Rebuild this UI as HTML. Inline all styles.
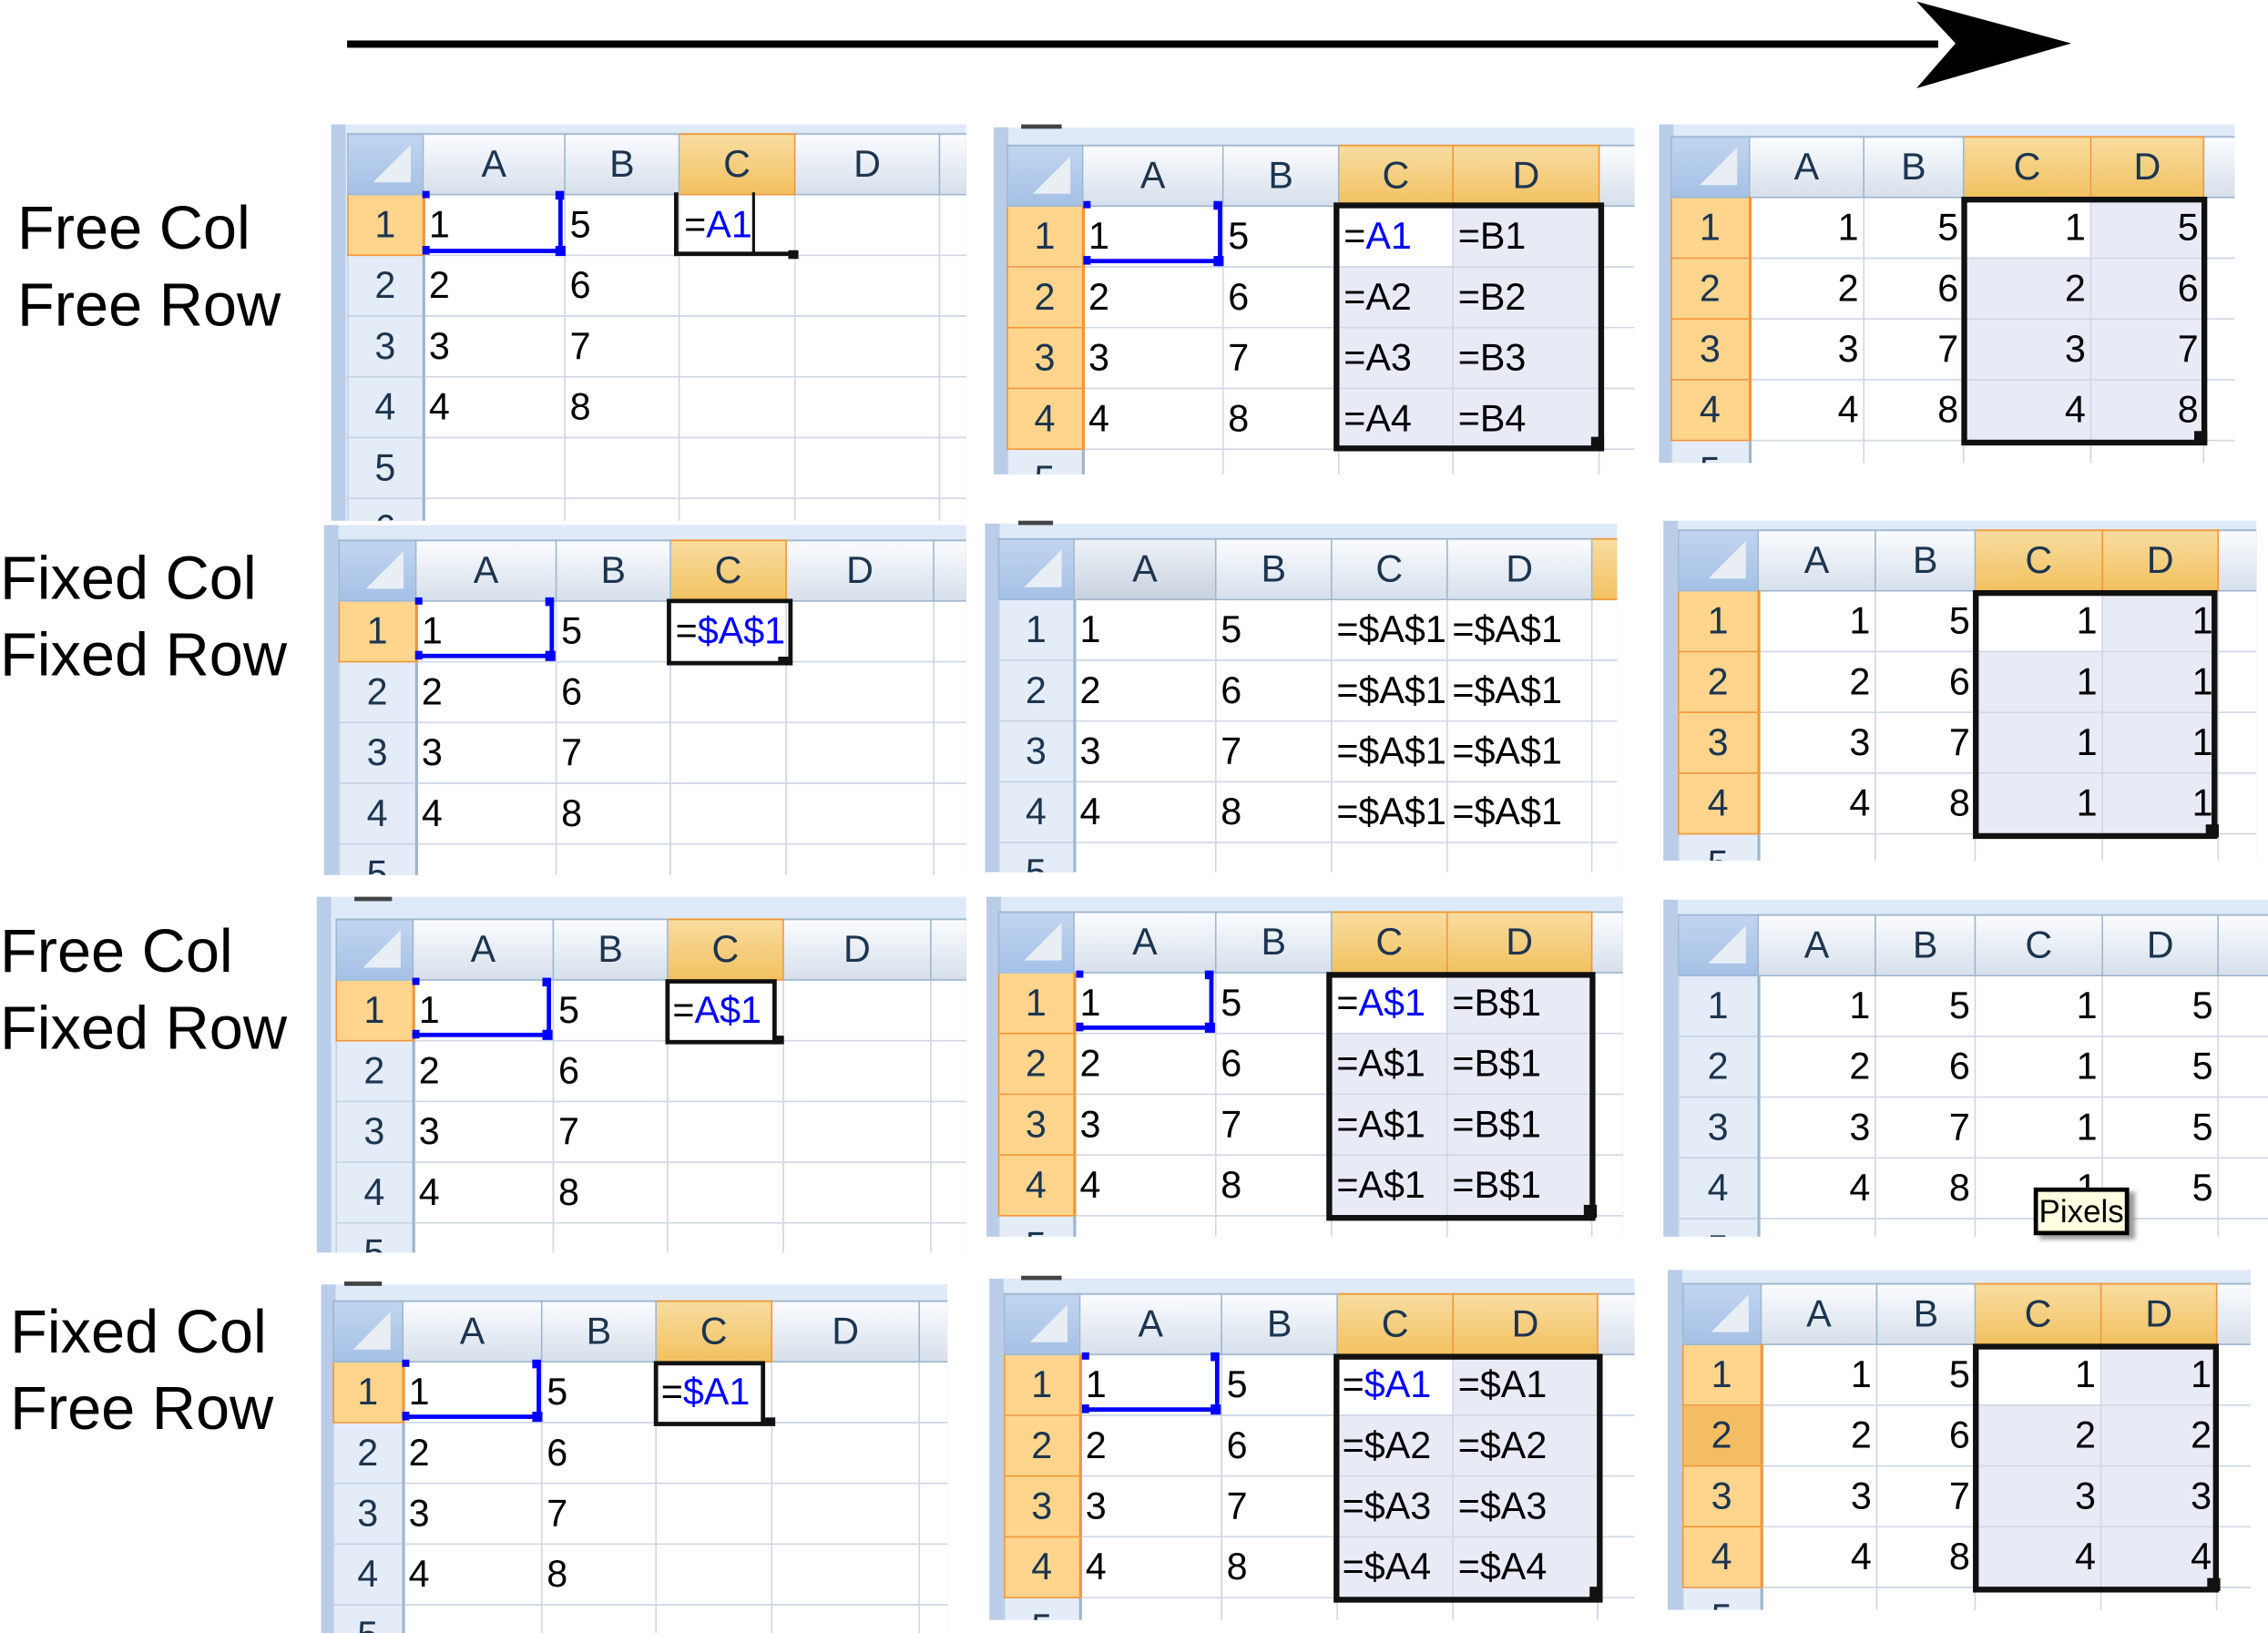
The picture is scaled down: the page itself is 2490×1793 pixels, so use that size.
<!DOCTYPE html>
<html><head><meta charset="utf-8"><style>
html,body{margin:0;padding:0;background:#fff;}
#w{position:absolute;left:0;top:0;width:1568px;height:1129px;transform:scale(1.58801,1.58813);transform-origin:0 0;overflow:hidden;}
.g{position:absolute;overflow:hidden;background:linear-gradient(90deg,#b9cde9 0,#b9cde9 10px,#dfeaf8 10px);}
.g table{position:absolute;border-collapse:collapse;table-layout:fixed;font:26px "Liberation Sans",sans-serif;}
.g td{border:1px solid #d0d7e5;height:41px;padding:0 3px;white-space:nowrap;overflow:hidden;background:#fff;color:#000;line-height:41px;}
.g td.c{background:linear-gradient(#c0d5ef,#a5c0e6);border:1px solid #9eb6ce;position:relative;}
.g td.c:after{content:"";position:absolute;right:8px;bottom:8px;border-left:26px solid transparent;border-bottom:26px solid #e9eef5;}
.g td.ch{background:linear-gradient(#fafcfe,#d6dfeb);border:1px solid #9eb6ce;color:#1c3550;text-align:center;}
.g td.h{background:linear-gradient(#f9dca0,#f1c15f);border:1px solid #f29536;color:#1c3550;text-align:center;}
.g td.rh{background:#e4ecf7;border:1px solid #c5d2e3;border-right:2px solid #9eb6ce;color:#1c3550;text-align:center;}
.g td.rhh{background:#ffd58d;border:1px solid #f29536;border-right:2px solid #f29536;color:#1c3550;text-align:center;}
.g td.rhd{background:#f5bd63;border:1px solid #f29536;border-right:2px solid #f29536;color:#1c3550;text-align:center;}
.g td.s{background:#e8ebf5;}
.g td.r{text-align:right;}
.b{color:#0000ff;}
.o{position:absolute;}
.lbl{position:absolute;font:42px "Liberation Sans",sans-serif;color:#000;line-height:53px;}
</style></head><body><div id="w">

<svg class="o" style="left:0;top:0" width="1568" height="80"><rect x="240" y="28" width="1100" height="5" fill="#000"/><path d="M1325,1 L1432,30 L1325,61 L1352,30 Z" fill="#000"/></svg>

<div class="lbl" style="left:12px;top:131px">Free Col<br>Free Row</div>
<div class="lbl" style="left:0px;top:373px">Fixed Col<br>Fixed Row</div>
<div class="lbl" style="left:0px;top:631px">Free Col<br>Fixed Row</div>
<div class="lbl" style="left:7px;top:894px">Fixed Col<br>Free Row</div>

<!-- G1 -->
<div class="g" style="left:229px;top:86px;width:439px;height:274px">
<table style="left:11px;top:6px;width:428px"><colgroup><col style="width:52px"><col style="width:98px"><col style="width:79px"><col style="width:80px"><col style="width:100px"><col style="width:19px"></colgroup>
<tr><td class="c"></td><td class="ch">A</td><td class="ch">B</td><td class="h">C</td><td class="ch">D</td><td class="ch"></td></tr>
<tr><td class="rhh">1</td><td>1</td><td>5</td><td>=<span class="b">A1</span></td><td></td><td></td></tr>
<tr><td class="rh">2</td><td>2</td><td>6</td><td></td><td></td><td></td></tr>
<tr><td class="rh">3</td><td>3</td><td>7</td><td></td><td></td><td></td></tr>
<tr><td class="rh">4</td><td>4</td><td>8</td><td></td><td></td><td></td></tr>
<tr><td class="rh">5</td><td></td><td></td><td></td><td></td><td></td></tr>
<tr><td class="rh">6</td><td></td><td></td><td></td><td></td><td></td></tr>
</table></div>
<div class="o" style="left:293px;top:172px;width:95px;height:3px;background:#00f"></div>
<div class="o" style="left:386px;top:133px;width:3px;height:41px;background:#00f"></div>
<div class="o" style="left:292px;top:132px;width:5px;height:5px;background:#00f"></div>
<div class="o" style="left:384px;top:132px;width:6px;height:6px;background:#00f"></div>
<div class="o" style="left:292px;top:170px;width:5px;height:6px;background:#00f"></div>
<div class="o" style="left:384px;top:170px;width:7px;height:7px;background:#00f"></div>
<div class="o" style="left:466px;top:133px;width:3px;height:44px;background:#111"></div>
<div class="o" style="left:466px;top:174px;width:80px;height:3px;background:#111"></div>
<div class="o" style="left:520px;top:133px;width:2px;height:42px;background:#111"></div>
<div class="o" style="left:545px;top:173px;width:7px;height:6px;background:#111"></div>

<!-- G2 -->
<div class="g" style="left:687px;top:88px;width:443px;height:240px">
<table style="left:9px;top:12px;width:434px"><colgroup><col style="width:52px"><col style="width:97px"><col style="width:80px"><col style="width:79px"><col style="width:101px"><col style="width:25px"></colgroup>
<tr><td class="c"></td><td class="ch">A</td><td class="ch">B</td><td class="h">C</td><td class="h">D</td><td class="ch"></td></tr>
<tr><td class="rhh">1</td><td>1</td><td>5</td><td>=<span class="b">A1</span></td><td class="s">=B1</td><td></td></tr>
<tr><td class="rhh">2</td><td>2</td><td>6</td><td class="s">=A2</td><td class="s">=B2</td><td></td></tr>
<tr><td class="rhh">3</td><td>3</td><td>7</td><td class="s">=A3</td><td class="s">=B3</td><td></td></tr>
<tr><td class="rhh">4</td><td>4</td><td>8</td><td class="s">=A4</td><td class="s">=B4</td><td></td></tr>
<tr><td class="rh">5</td><td></td><td></td><td></td><td></td><td></td></tr>
</table></div>
<div class="o" style="left:751px;top:179px;width:93px;height:3px;background:#00f"></div>
<div class="o" style="left:842px;top:140px;width:3px;height:41px;background:#00f"></div>
<div class="o" style="left:749px;top:139px;width:5px;height:5px;background:#00f"></div>
<div class="o" style="left:839px;top:139px;width:6px;height:6px;background:#00f"></div>
<div class="o" style="left:749px;top:177px;width:5px;height:6px;background:#00f"></div>
<div class="o" style="left:839px;top:177px;width:7px;height:7px;background:#00f"></div>
<div class="o" style="left:922px;top:140px;width:179px;height:164px;border:4px solid #111"></div>
<div class="o" style="left:1100px;top:302px;width:9px;height:9px;background:#111"></div>
<div class="o" style="left:706px;top:86px;width:28px;height:3px;background:#444"></div>

<!-- G3 -->
<div class="g" style="left:1147px;top:86px;width:398px;height:234px">
<table style="left:8px;top:8px;width:390px"><colgroup><col style="width:54px"><col style="width:79px"><col style="width:69px"><col style="width:88px"><col style="width:78px"><col style="width:22px"></colgroup>
<tr><td class="c"></td><td class="ch">A</td><td class="ch">B</td><td class="h">C</td><td class="h">D</td><td class="ch"></td></tr>
<tr><td class="rhh">1</td><td class="r">1</td><td class="r">5</td><td class="r">1</td><td class="r s">5</td><td></td></tr>
<tr><td class="rhh">2</td><td class="r">2</td><td class="r">6</td><td class="r s">2</td><td class="r s">6</td><td></td></tr>
<tr><td class="rhh">3</td><td class="r">3</td><td class="r">7</td><td class="r s">3</td><td class="r s">7</td><td></td></tr>
<tr><td class="rhh">4</td><td class="r">4</td><td class="r">8</td><td class="r s">4</td><td class="r s">8</td><td></td></tr>
<tr><td class="rh">5</td><td></td><td></td><td></td><td></td><td></td></tr>
</table></div>
<div class="o" style="left:1356px;top:136px;width:162px;height:164px;border:4px solid #111"></div>
<div class="o" style="left:1517px;top:298px;width:9px;height:9px;background:#111"></div>

<!-- G4 -->
<div class="g" style="left:224px;top:363px;width:444px;height:242px">
<table style="left:10px;top:10px;width:434px"><colgroup><col style="width:53px"><col style="width:97px"><col style="width:79px"><col style="width:80px"><col style="width:102px"><col style="width:23px"></colgroup>
<tr><td class="c"></td><td class="ch">A</td><td class="ch">B</td><td class="h">C</td><td class="ch">D</td><td class="ch"></td></tr>
<tr><td class="rhh">1</td><td>1</td><td>5</td><td>=<span class="b">$A$1</span></td><td></td><td></td></tr>
<tr><td class="rh">2</td><td>2</td><td>6</td><td></td><td></td><td></td></tr>
<tr><td class="rh">3</td><td>3</td><td>7</td><td></td><td></td><td></td></tr>
<tr><td class="rh">4</td><td>4</td><td>8</td><td></td><td></td><td></td></tr>
<tr><td class="rh">5</td><td></td><td></td><td></td><td></td><td></td></tr>
</table></div>
<div class="o" style="left:289px;top:452px;width:94px;height:3px;background:#00f"></div>
<div class="o" style="left:380px;top:414px;width:3px;height:41px;background:#00f"></div>
<div class="o" style="left:287px;top:413px;width:5px;height:5px;background:#00f"></div>
<div class="o" style="left:377px;top:413px;width:6px;height:6px;background:#00f"></div>
<div class="o" style="left:287px;top:450px;width:5px;height:6px;background:#00f"></div>
<div class="o" style="left:377px;top:450px;width:7px;height:7px;background:#00f"></div>
<div class="o" style="left:461px;top:414px;width:81px;height:40px;border:3px solid #111"></div>
<div class="o" style="left:538px;top:454px;width:7px;height:6px;background:#111"></div>

<!-- G5 -->
<div class="g" style="left:681px;top:362px;width:437px;height:241px">
<table style="left:9px;top:10px;width:428px"><colgroup><col style="width:52px"><col style="width:98px"><col style="width:80px"><col style="width:80px"><col style="width:100px"><col style="width:18px"></colgroup>
<tr><td class="c"></td><td class="ch" style="background:linear-gradient(#eef2f7,#c8d1de)">A</td><td class="ch">B</td><td class="ch">C</td><td class="ch">D</td><td class="h"></td></tr>
<tr><td class="rh">1</td><td>1</td><td>5</td><td>=$A$1</td><td>=$A$1</td><td></td></tr>
<tr><td class="rh">2</td><td>2</td><td>6</td><td>=$A$1</td><td>=$A$1</td><td></td></tr>
<tr><td class="rh">3</td><td>3</td><td>7</td><td>=$A$1</td><td>=$A$1</td><td></td></tr>
<tr><td class="rh">4</td><td>4</td><td>8</td><td>=$A$1</td><td>=$A$1</td><td></td></tr>
<tr><td class="rh">5</td><td></td><td></td><td></td><td></td><td></td></tr>
</table></div>
<div class="o" style="left:704px;top:360px;width:24px;height:3px;background:#444"></div>

<!-- G6 -->
<div class="g" style="left:1150px;top:360px;width:410px;height:235px">
<table style="left:10px;top:6px;width:400px"><colgroup><col style="width:55px"><col style="width:81px"><col style="width:69px"><col style="width:88px"><col style="width:80px"><col style="width:27px"></colgroup>
<tr><td class="c"></td><td class="ch">A</td><td class="ch">B</td><td class="h">C</td><td class="h">D</td><td class="ch"></td></tr>
<tr><td class="rhh">1</td><td class="r">1</td><td class="r">5</td><td class="r">1</td><td class="r s">1</td><td></td></tr>
<tr><td class="rhh">2</td><td class="r">2</td><td class="r">6</td><td class="r s">1</td><td class="r s">1</td><td></td></tr>
<tr><td class="rhh">3</td><td class="r">3</td><td class="r">7</td><td class="r s">1</td><td class="r s">1</td><td></td></tr>
<tr><td class="rhh">4</td><td class="r">4</td><td class="r">8</td><td class="r s">1</td><td class="r s">1</td><td></td></tr>
<tr><td class="rh">5</td><td></td><td></td><td></td><td></td><td></td></tr>
</table></div>
<div class="o" style="left:1364px;top:408px;width:161px;height:164px;border:4px solid #111"></div>
<div class="o" style="left:1525px;top:570px;width:9px;height:9px;background:#111"></div>

<!-- G7 -->
<div class="g" style="left:219px;top:620px;width:449px;height:246px">
<table style="left:13px;top:15px;width:436px"><colgroup><col style="width:53px"><col style="width:97px"><col style="width:79px"><col style="width:80px"><col style="width:102px"><col style="width:25px"></colgroup>
<tr><td class="c"></td><td class="ch">A</td><td class="ch">B</td><td class="h">C</td><td class="ch">D</td><td class="ch"></td></tr>
<tr><td class="rhh">1</td><td>1</td><td>5</td><td>=<span class="b">A$1</span></td><td></td><td></td></tr>
<tr><td class="rh">2</td><td>2</td><td>6</td><td></td><td></td><td></td></tr>
<tr><td class="rh">3</td><td>3</td><td>7</td><td></td><td></td><td></td></tr>
<tr><td class="rh">4</td><td>4</td><td>8</td><td></td><td></td><td></td></tr>
<tr><td class="rh">5</td><td></td><td></td><td></td><td></td><td></td></tr>
</table></div>
<div class="o" style="left:287px;top:714px;width:94px;height:3px;background:#00f"></div>
<div class="o" style="left:378px;top:677px;width:3px;height:40px;background:#00f"></div>
<div class="o" style="left:285px;top:676px;width:5px;height:5px;background:#00f"></div>
<div class="o" style="left:375px;top:676px;width:6px;height:6px;background:#00f"></div>
<div class="o" style="left:285px;top:712px;width:5px;height:6px;background:#00f"></div>
<div class="o" style="left:375px;top:712px;width:7px;height:7px;background:#00f"></div>
<div class="o" style="left:460px;top:677px;width:71px;height:39px;border:3px solid #111"></div>
<div class="o" style="left:535px;top:716px;width:7px;height:6px;background:#111"></div>
<div class="o" style="left:245px;top:620px;width:26px;height:3px;background:#444"></div>

<!-- G8 -->
<div class="g" style="left:682px;top:620px;width:440px;height:235px">
<table style="left:8px;top:10px;width:432px"><colgroup><col style="width:52px"><col style="width:98px"><col style="width:80px"><col style="width:80px"><col style="width:100px"><col style="width:22px"></colgroup>
<tr><td class="c"></td><td class="ch">A</td><td class="ch">B</td><td class="h">C</td><td class="h">D</td><td class="ch"></td></tr>
<tr><td class="rhh">1</td><td>1</td><td>5</td><td>=<span class="b">A$1</span></td><td class="s">=B$1</td><td></td></tr>
<tr><td class="rhh">2</td><td>2</td><td>6</td><td class="s">=A$1</td><td class="s">=B$1</td><td></td></tr>
<tr><td class="rhh">3</td><td>3</td><td>7</td><td class="s">=A$1</td><td class="s">=B$1</td><td></td></tr>
<tr><td class="rhh">4</td><td>4</td><td>8</td><td class="s">=A$1</td><td class="s">=B$1</td><td></td></tr>
<tr><td class="rh">5</td><td></td><td></td><td></td><td></td><td></td></tr>
</table></div>
<div class="o" style="left:746px;top:709px;width:93px;height:3px;background:#00f"></div>
<div class="o" style="left:836px;top:672px;width:3px;height:40px;background:#00f"></div>
<div class="o" style="left:744px;top:671px;width:5px;height:5px;background:#00f"></div>
<div class="o" style="left:833px;top:671px;width:6px;height:6px;background:#00f"></div>
<div class="o" style="left:744px;top:707px;width:5px;height:6px;background:#00f"></div>
<div class="o" style="left:833px;top:707px;width:7px;height:7px;background:#00f"></div>
<div class="o" style="left:917px;top:672px;width:178px;height:164px;border:4px solid #111"></div>
<div class="o" style="left:1095px;top:833px;width:9px;height:9px;background:#111"></div>

<!-- G9 -->
<div class="g" style="left:1150px;top:622px;width:418px;height:233px">
<table style="left:10px;top:10px;width:408px"><colgroup><col style="width:55px"><col style="width:81px"><col style="width:69px"><col style="width:88px"><col style="width:80px"><col style="width:35px"></colgroup>
<tr><td class="c"></td><td class="ch">A</td><td class="ch">B</td><td class="ch">C</td><td class="ch">D</td><td class="ch"></td></tr>
<tr><td class="rh">1</td><td class="r">1</td><td class="r">5</td><td class="r">1</td><td class="r">5</td><td></td></tr>
<tr><td class="rh">2</td><td class="r">2</td><td class="r">6</td><td class="r">1</td><td class="r">5</td><td></td></tr>
<tr><td class="rh">3</td><td class="r">3</td><td class="r">7</td><td class="r">1</td><td class="r">5</td><td></td></tr>
<tr><td class="rh">4</td><td class="r">4</td><td class="r">8</td><td class="r">1</td><td class="r">5</td><td></td></tr>
<tr><td class="rh">5</td><td></td><td></td><td></td><td></td><td></td></tr>
</table></div>
<div class="o" style="left:1406px;top:821px;width:60px;height:27px;background:#ffffe1;border:3px solid #000;box-shadow:4px 3px 3px #999;font:22px 'Liberation Sans',sans-serif;line-height:28px;text-align:center;overflow:hidden">Pixels</div>

<!-- G10 -->
<div class="g" style="left:222px;top:888px;width:433px;height:241px">
<table style="left:8px;top:11px;width:425px"><colgroup><col style="width:48px"><col style="width:96px"><col style="width:79px"><col style="width:80px"><col style="width:102px"><col style="width:20px"></colgroup>
<tr><td class="c"></td><td class="ch">A</td><td class="ch">B</td><td class="h">C</td><td class="ch">D</td><td class="ch"></td></tr>
<tr><td class="rhh">1</td><td>1</td><td>5</td><td>=<span class="b">$A1</span></td><td></td><td></td></tr>
<tr><td class="rh">2</td><td>2</td><td>6</td><td></td><td></td><td></td></tr>
<tr><td class="rh">3</td><td>3</td><td>7</td><td></td><td></td><td></td></tr>
<tr><td class="rh">4</td><td>4</td><td>8</td><td></td><td></td><td></td></tr>
<tr><td class="rh">5</td><td></td><td></td><td></td><td></td><td></td></tr>
</table></div>
<div class="o" style="left:280px;top:978px;width:93px;height:3px;background:#00f"></div>
<div class="o" style="left:371px;top:941px;width:3px;height:40px;background:#00f"></div>
<div class="o" style="left:278px;top:940px;width:5px;height:5px;background:#00f"></div>
<div class="o" style="left:368px;top:940px;width:6px;height:6px;background:#00f"></div>
<div class="o" style="left:278px;top:976px;width:5px;height:6px;background:#00f"></div>
<div class="o" style="left:368px;top:976px;width:7px;height:7px;background:#00f"></div>
<div class="o" style="left:452px;top:941px;width:71px;height:39px;border:3px solid #111"></div>
<div class="o" style="left:529px;top:980px;width:7px;height:6px;background:#111"></div>
<div class="o" style="left:238px;top:886px;width:26px;height:3px;background:#444"></div>

<!-- G11 -->
<div class="g" style="left:684px;top:884px;width:446px;height:236px">
<table style="left:10px;top:10px;width:436px"><colgroup><col style="width:52px"><col style="width:98px"><col style="width:80px"><col style="width:80px"><col style="width:100px"><col style="width:26px"></colgroup>
<tr><td class="c"></td><td class="ch">A</td><td class="ch">B</td><td class="h">C</td><td class="h">D</td><td class="ch"></td></tr>
<tr><td class="rhh">1</td><td>1</td><td>5</td><td>=<span class="b">$A1</span></td><td class="s">=$A1</td><td></td></tr>
<tr><td class="rhh">2</td><td>2</td><td>6</td><td class="s">=$A2</td><td class="s">=$A2</td><td></td></tr>
<tr><td class="rhh">3</td><td>3</td><td>7</td><td class="s">=$A3</td><td class="s">=$A3</td><td></td></tr>
<tr><td class="rhh">4</td><td>4</td><td>8</td><td class="s">=$A4</td><td class="s">=$A4</td><td></td></tr>
<tr><td class="rh">5</td><td></td><td></td><td></td><td></td><td></td></tr>
</table></div>
<div class="o" style="left:750px;top:973px;width:93px;height:3px;background:#00f"></div>
<div class="o" style="left:840px;top:936px;width:3px;height:40px;background:#00f"></div>
<div class="o" style="left:748px;top:935px;width:5px;height:5px;background:#00f"></div>
<div class="o" style="left:837px;top:935px;width:6px;height:6px;background:#00f"></div>
<div class="o" style="left:748px;top:971px;width:5px;height:6px;background:#00f"></div>
<div class="o" style="left:837px;top:971px;width:7px;height:7px;background:#00f"></div>
<div class="o" style="left:922px;top:936px;width:178px;height:164px;border:4px solid #111"></div>
<div class="o" style="left:1099px;top:1097px;width:9px;height:9px;background:#111"></div>
<div class="o" style="left:706px;top:882px;width:28px;height:3px;background:#444"></div>

<!-- G12 -->
<div class="g" style="left:1153px;top:878px;width:403px;height:235px">
<table style="left:10px;top:9px;width:393px"><colgroup><col style="width:54px"><col style="width:80px"><col style="width:68px"><col style="width:87px"><col style="width:80px"><col style="width:24px"></colgroup>
<tr><td class="c"></td><td class="ch">A</td><td class="ch">B</td><td class="h">C</td><td class="h">D</td><td class="ch"></td></tr>
<tr><td class="rhh">1</td><td class="r">1</td><td class="r">5</td><td class="r">1</td><td class="r s">1</td><td></td></tr>
<tr><td class="rhd">2</td><td class="r">2</td><td class="r">6</td><td class="r s">2</td><td class="r s">2</td><td></td></tr>
<tr><td class="rhh">3</td><td class="r">3</td><td class="r">7</td><td class="r s">3</td><td class="r s">3</td><td></td></tr>
<tr><td class="rhh">4</td><td class="r">4</td><td class="r">8</td><td class="r s">4</td><td class="r s">4</td><td></td></tr>
<tr><td class="rh">5</td><td></td><td></td><td></td><td></td><td></td></tr>
</table></div>
<div class="o" style="left:1364px;top:929px;width:162px;height:164px;border:4px solid #111"></div>
<div class="o" style="left:1526px;top:1091px;width:9px;height:9px;background:#111"></div>

</div></body></html>
